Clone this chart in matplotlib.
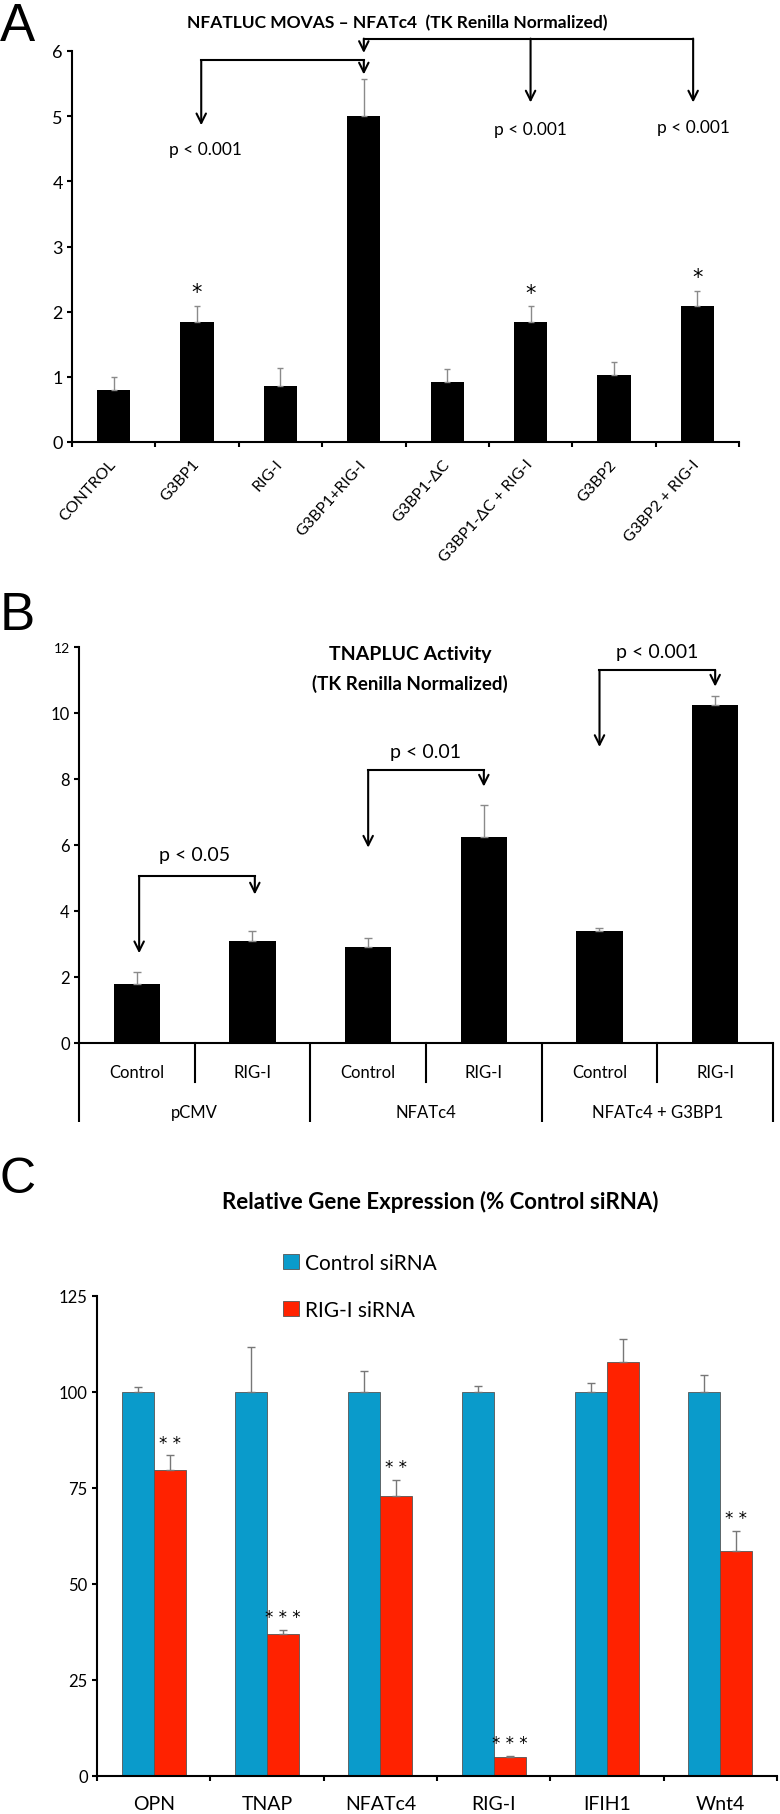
import numpy as np
import matplotlib
matplotlib.use('Agg')
import matplotlib.pyplot as plt
import matplotlib.transforms as mtransforms

plt.rcParams['font.family'] = ['Lato', 'DejaVu Sans']

# Panel A: NFATLUC reporter
a_labels = ['CONTROL', 'G3BP1', 'RIG-I', 'G3BP1+RIG-I', 'G3BP1-ΔC',
            'G3BP1-ΔC + RIG-I', 'G3BP2', 'G3BP2 + RIG-I']
a_values = [0.80, 1.84, 0.86, 5.01, 0.92, 1.84, 1.03, 2.09]
a_errors = [0.20, 0.25, 0.27, 0.56, 0.20, 0.24, 0.20, 0.23]
a_star_idx = [1, 5, 7]

# Panel B: TNAPLUC reporter
b_groups = ['pCMV', 'NFATc4', 'NFATc4 + G3BP1']
b_labels = ['Control', 'RIG-I', 'Control', 'RIG-I', 'Control', 'RIG-I']
b_values = [1.78, 3.10, 2.92, 6.25, 3.39, 10.24]
b_errors = [0.38, 0.30, 0.25, 0.95, 0.08, 0.27]
b_pvals = ['p < 0.05', 'p < 0.01', 'p < 0.001']

# Panel C: siRNA gene expression
c_genes = ['OPN', 'TNAP', 'NFATc4', 'RIG-I', 'IFIH1', 'Wnt4']
c_control = [100, 100, 100, 100, 100, 100]
c_control_err = [1.3, 11.6, 5.4, 1.6, 2.4, 4.4]
c_sirna = [79.6, 37.1, 73.0, 5.0, 107.8, 58.5]
c_sirna_err = [3.9, 1.0, 4.1, 0.3, 6.0, 5.3]
c_stars = ['**', '***', '**', '***', '', '**']

W, H = 780, 1815
fig = plt.figure(figsize=(W / 100, H / 100), dpi=100)
PX = 0.72  # points per pixel at dpi 100
STAR_FONT = ['DejaVu Sans']


def add_axes_px(l, t, r, b):
    return fig.add_axes([l / W, 1 - b / H, (r - l) / W, (b - t) / H])


def fig_text(x, y, s, **kw):
    fig.text(x / W, 1 - y / H, s, **kw)


def style_axes(ax):
    for s in ['top', 'right']:
        ax.spines[s].set_visible(False)
    for s in ['left', 'bottom']:
        ax.spines[s].set_linewidth(1.5)
    ax.tick_params(direction='out', width=1.5, length=5 * PX)


def bracket(ax, xs, tips, y_top, lw=1.5, scale=17):
    ax.plot([min(xs), max(xs)], [y_top, y_top], color='black', lw=lw,
            clip_on=False, solid_capstyle='projecting')
    for x, tip in zip(xs, tips):
        ax.annotate('', xy=(x, tip), xytext=(x, y_top), annotation_clip=False,
                    arrowprops=dict(arrowstyle='->', lw=lw, color='black',
                                    shrinkA=0, shrinkB=0, mutation_scale=scale))


# ---------------- Panel A ----------------
axA = add_axes_px(72, 52, 739, 443)
style_axes(axA)
xa = np.arange(len(a_labels))
axA.bar(xa, a_values, width=0.4, color='black')
axA.errorbar(xa, a_values, yerr=[np.zeros(len(xa)), a_errors], fmt='none',
             ecolor='#8a8a8a', elinewidth=1, capsize=2.5, capthick=1)
axA.set_xlim(-0.5, len(a_labels) - 0.5)
axA.set_ylim(0, 6)
axA.set_yticks(range(7))
axA.tick_params(axis='y', labelsize=13, pad=3)
axA.set_xticks(np.arange(-0.5, len(a_labels)))
axA.set_xticklabels([])
axA.set_xticks(xa, minor=True)
axA.set_xticklabels(a_labels, minor=True, rotation=48, ha='right', va='center',
                    rotation_mode='anchor', fontsize=11.5)
axA.tick_params(axis='x', which='minor', length=0, pad=14)

for i in a_star_idx:
    axA.text(i, a_values[i] + a_errors[i] + 0.12, '*', ha='center',
             va='baseline', fontsize=15, family=STAR_FONT)

bracket(axA, [1.05, 3], [4.86, 5.64], 5.86)
bracket(axA, [3, 5, 6.95], [5.97, 5.21, 5.21], 6.19)
axA.text(1.1, 4.49, 'p < 0.001', ha='center', va='center', fontsize=12.5)
axA.text(5, 4.81, 'p < 0.001', ha='center', va='center', fontsize=12.5)
axA.text(6.95, 4.83, 'p < 0.001', ha='center', va='center', fontsize=12.5)

fig_text(397, 23, 'NFATLUC MOVAS – NFATc4  (TK Renilla Normalized)',
         ha='center', va='center', fontsize=12.5, fontweight='bold')
fig_text(0, 2, 'A', ha='left', va='top', fontsize=38,
         family=['Liberation Sans', 'DejaVu Sans'])

# ---------------- Panel B ----------------
bt, bb = 648, 1044
axB = add_axes_px(79, bt, 773, bb)
style_axes(axB)
xb = np.arange(len(b_values))
axB.bar(xb, b_values, width=0.4, color='black')
axB.errorbar(xb, b_values, yerr=[np.zeros(len(xb)), b_errors], fmt='none',
             ecolor='#8a8a8a', elinewidth=1, capsize=3, capthick=1)
axB.set_xlim(-0.5, len(b_values) - 0.5)
axB.set_ylim(0, 12)
axB.set_yticks(range(0, 13, 2))
axB.tick_params(axis='y', labelsize=12, pad=3)
axB.get_yticklabels()[-1].set_fontsize(10)
axB.set_xticks([])

trans = mtransforms.blended_transform_factory(axB.transData, axB.transAxes)
b_h = bb - bt
for i, lab in enumerate(b_labels):
    axB.annotate(lab, xy=(i, 0), xycoords=trans, xytext=(0, -29 * PX),
                 textcoords='offset points', ha='center', va='center', fontsize=12)
for g, name in enumerate(b_groups):
    axB.annotate(name, xy=(2 * g + 0.5, 0), xycoords=trans, xytext=(0, -69 * PX),
                 textcoords='offset points', ha='center', va='center', fontsize=12)
    axB.plot([2 * g + 0.5] * 2, [0, -39 / b_h], transform=trans, color='black',
             lw=1.5, clip_on=False)
for x in np.arange(-0.5, len(b_values), 2):
    axB.plot([x, x], [0, -79 / b_h], transform=trans, color='black', lw=1.5,
             clip_on=False, solid_capstyle='butt')

bracket(axB, [0.02, 1.02], [2.72, 4.5], 5.05)
bracket(axB, [2.0, 3.0], [5.92, 7.77], 8.26)
bracket(axB, [4.0, 5.0], [8.97, 10.8], 11.3)
for k, (p, y) in enumerate(zip(b_pvals, [5.7, 8.84, 11.85])):
    axB.text(2 * k + 0.5, y, p, ha='center', va='center', fontsize=14)
axB.text(2.36, 11.8, 'TNAPLUC Activity', ha='center', va='center',
         fontsize=14, fontweight='bold')
axB.text(2.36, 10.9, '(TK Renilla Normalized)', ha='center', va='center',
         fontsize=13.5, fontweight='bold')
fig_text(0, 616, 'B', ha='left', va='center', fontsize=38,
         family=['Liberation Sans', 'DejaVu Sans'])

# ---------------- Panel C ----------------
axC = add_axes_px(97, 1297, 777, 1777)
style_axes(axC)
xc = np.arange(len(c_genes))
bw = 0.283
bc = axC.bar(xc - bw / 2, c_control, width=bw, color='#0a9bcb',
             edgecolor='#555555', linewidth=0.6, label='Control siRNA')
br = axC.bar(xc + bw / 2, c_sirna, width=bw, color='#ff2200',
             edgecolor='#555555', linewidth=0.6, label='RIG-I siRNA')
axC.errorbar(xc - bw / 2, c_control, yerr=[np.zeros(len(xc)), c_control_err],
             fmt='none', ecolor='#777777', elinewidth=1, capsize=3, capthick=1)
axC.errorbar(xc + bw / 2, c_sirna, yerr=[np.zeros(len(xc)), c_sirna_err],
             fmt='none', ecolor='#777777', elinewidth=1, capsize=3, capthick=1)
axC.set_xlim(-0.5, len(c_genes) - 0.5)
axC.set_ylim(0, 125)
axC.set_yticks(range(0, 126, 25))
axC.tick_params(axis='y', labelsize=12, pad=3)
axC.set_xticks(np.arange(-0.5, len(c_genes)))
axC.set_xticklabels([])
axC.set_xticks(xc, minor=True)
axC.set_xticklabels(c_genes, minor=True, fontsize=14)
axC.tick_params(axis='x', which='minor', length=0, pad=14)

for i, s in enumerate(c_stars):
    if s:
        axC.text(i + bw / 2, c_sirna[i] + c_sirna_err[i] + 1.0, ' '.join(s),
                 ha='center', va='bottom', fontsize=12, family=STAR_FONT)

fig.legend(handles=[bc, br], loc='upper left',
           bbox_to_anchor=(283 / W, 1 - 1254 / H), frameon=False, fontsize=15,
           handlelength=0.75, handleheight=0.75, handletextpad=0.3,
           labelspacing=1.3, borderaxespad=0, borderpad=0)
fig_text(440, 1202, 'Relative Gene Expression (% Control siRNA)', ha='center',
         va='center', fontsize=16, fontweight='bold')
fig_text(0, 1180, 'C', ha='left', va='center', fontsize=36,
         family=['Liberation Sans', 'DejaVu Sans'])

fig.savefig('out.png', dpi=100)
